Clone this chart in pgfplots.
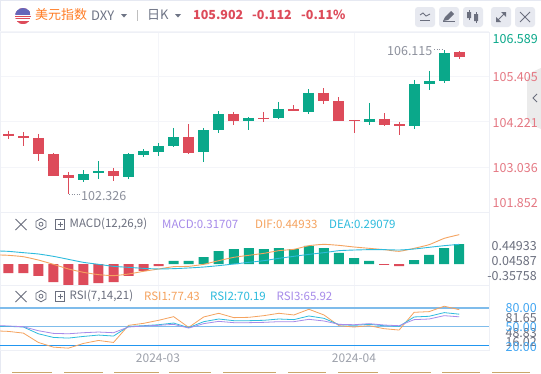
\documentclass[border=0pt]{standalone}
\usepackage{fontspec}
\usepackage{pgfplots}
\pgfplotsset{compat=1.18}
\setmainfont{Noto Sans CJK SC}
\definecolor{up}{HTML}{0AA88A}
\definecolor{down}{HTML}{DD4B5A}
\definecolor{gridc}{HTML}{F4F5F9}
\definecolor{framec}{HTML}{EEF0F6}
\definecolor{borderc}{HTML}{E6E9F2}
\definecolor{txt}{HTML}{6E7485}
\definecolor{lab}{HTML}{8C909C}
\definecolor{dif}{HTML}{F5A35F}
\definecolor{dea}{HTML}{2DBBDD}
\definecolor{mac}{HTML}{A78BEA}
\definecolor{hlc}{HTML}{7FBCEB}
\definecolor{hlb}{HTML}{2196F0}
\definecolor{btn}{HTML}{E7E9F0}
\definecolor{ico}{HTML}{6B6F7E}
\definecolor{tanc}{HTML}{C9A76B}
\pgfplotsset{panel/.style={
  scale only axis, anchor=north west, width=489.3pt,
  xmin=-0.552, xmax=32, clip=true, unbounded coords=jump,
  axis line style={draw=framec,line width=0.8pt},
  tick style={draw=none}, xticklabels={}, yticklabels={},
  xtick={10,23}, xmajorgrids, grid style={gridc,line width=1pt}}}
\newcommand{\lbl}[4]{\node[anchor=#1,inner sep=0pt,text=#2,font=\fontsize{#3}{#3}\selectfont] at #4;}
\begin{document}
\begin{tikzpicture}
\useasboundingbox (0pt,0pt) rectangle (541pt,-373pt);
\begin{scope}[x=1pt,y=-1pt]
\fill[white] (0,0) rectangle (541,373);
\fill[borderc] (0,0) rectangle (541,1);
\fill[borderc] (0,0) rectangle (1,373);
\draw[gridc,line width=1pt] (0,31.5) -- (489,31.5);
\end{scope}
% ---- candles
\begin{axis}[panel, at={(0pt,-32pt)}, height=180pt, ymin=101.852, ymax=106.589,
  ytick={105.405,104.221,103.036}, ymajorgrids]
\addplot[down,line width=1pt] coordinates {
(0,103.992)(0,103.765)(0,nan) (1,103.949)(1,103.597)(0,nan) (2,103.905)(2,103.202)(0,nan) (3,103.405)(3,102.799)(0,nan)
(4,102.905)(4,102.326)(0,nan) (7,103.010)(7,102.676)(0,nan) (12,104.168)(12,103.378)(0,nan) (15,104.484)(15,104.142)(0,nan)
(17,104.484)(17,104.221)(0,nan) (19,104.668)(19,104.510)(0,nan) (21,105.107)(21,104.694)(0,nan) (22,104.871)(22,104.247)(0,nan)
(23,104.273)(23,103.931)(0,nan) (25,104.457)(25,104.115)(0,nan) (26,104.221)(26,103.878)(0,nan) (30,106.089)(30,105.878)
};
\addplot[down,line width=11pt] coordinates {
(0,103.913)(0,103.860)(0,nan) (1,103.852)(1,103.807)(0,nan) (2,103.800)(2,103.386)(0,nan) (3,103.378)(3,102.799)(0,nan)
(4,102.826)(4,102.747)(0,nan) (7,102.931)(7,102.799)(0,nan) (12,103.826)(12,103.405)(0,nan) (15,104.431)(15,104.247)(0,nan)
(17,104.334)(17,104.300)(0,nan) (19,104.563)(19,104.510)(0,nan) (21,104.984)(21,104.773)(0,nan) (22,104.773)(22,104.247)(0,nan)
(23,104.273)(23,104.240)(0,nan) (25,104.300)(25,104.142)(0,nan) (26,104.168)(26,104.115)(0,nan) (30,106.063)(30,105.931)
};
\addplot[up,line width=1pt] coordinates {
(5,102.957)(5,102.650)(0,nan) (6,103.194)(6,102.728)(0,nan) (8,103.405)(8,102.728)(0,nan) (9,103.510)(9,103.307)(0,nan)
(10,103.668)(10,103.334)(0,nan) (11,104.063)(11,103.563)(0,nan) (13,104.063)(13,103.168)(0,nan) (14,104.510)(14,103.931)(0,nan)
(16,104.352)(16,104.010)(0,nan) (18,104.747)(18,104.300)(0,nan) (20,105.089)(20,104.431)(0,nan) (24,104.721)(24,104.142)(0,nan)
(27,105.326)(27,104.036)(0,nan) (28,105.563)(28,105.063)(0,nan) (29,106.115)(29,105.247)
};
\addplot[up,line width=11pt] coordinates {
(5,102.852)(5,102.694)(0,nan) (6,102.931)(6,102.886)(0,nan) (8,103.378)(8,102.773)(0,nan) (9,103.457)(9,103.360)(0,nan)
(10,103.589)(10,103.431)(0,nan) (11,103.826)(11,103.589)(0,nan) (13,104.010)(13,103.431)(0,nan) (14,104.431)(14,104.010)(0,nan)
(16,104.326)(16,104.247)(0,nan) (18,104.563)(18,104.326)(0,nan) (20,104.984)(20,104.484)(0,nan) (24,104.300)(24,104.221)(0,nan)
(27,105.221)(27,104.115)(0,nan) (28,105.300)(28,105.221)(0,nan) (29,106.036)(29,105.300)
};
\end{axis}
% ---- MACD
\begin{axis}[panel, at={(0pt,-212pt)}, height=73.5pt, ymin=-0.3413, ymax=0.8254,
  ytick=\empty, ybar=0pt, bar width=10pt]
\addplot[fill=down,draw=none,bar shift=0pt] coordinates {
(0,-.143)(1,-.143)(2,-.190)(3,-.286)(4,-.333)(5,-.333)(6,-.302)(7,-.286)(8,-.190)(9,-.111)(10,-.032)(25,-.012)(26,-.032)};
\addplot[fill=up,draw=none,bar shift=0pt] coordinates {
(11,.048)(12,.048)(13,.111)(14,.206)(15,.238)(16,.254)(17,.238)(18,.254)(19,.238)(20,.286)(21,.254)(22,.175)(23,.095)(24,.048)(27,.063)(28,.143)(29,.254)(30,.317)};
\end{axis}
\begin{axis}[panel, at={(0pt,-212pt)}, height=73.5pt, ymin=-0.3413, ymax=0.8254, ytick=\empty, xtick=\empty, axis line style={draw=none}]
\addplot[dif,line width=0.9pt,smooth,tension=0.3] coordinates {
(-.55,.143)(0,.138)(1,.116)(2,.063)(3,-.005)(4,-.079)(5,-.132)(6,-.169)(7,-.185)(8,-.159)(9,-.116)(10,-.079)(11,-.042)(12,-.037)(13,-.005)(14,.053)(15,.106)(16,.138)(17,.169)(18,.212)(19,.233)(20,.291)(21,.312)(22,.296)(23,.270)(24,.249)(25,.228)(26,.201)(27,.249)(28,.307)(29,.407)(30,.466)};
\addplot[dea,line width=0.9pt,smooth,tension=0.3] coordinates {
(-.55,.206)(0,.201)(1,.180)(2,.159)(3,.122)(4,.074)(5,.026)(6,-.005)(7,-.037)(8,-.053)(9,-.069)(10,-.079)(11,-.074)(12,-.063)(13,-.048)(14,-.026)(15,0)(16,.026)(17,.053)(18,.090)(19,.122)(20,.153)(21,.180)(22,.212)(23,.222)(24,.228)(25,.228)(26,.222)(27,.238)(28,.265)(29,.291)(30,.312)};
\end{axis}
% ---- RSI
\begin{axis}[panel, at={(0pt,-285.7pt)}, height=64.3pt, ymin=12.4, ymax=116.1, ytick=\empty]
\addplot[hlc,line width=1.3pt] coordinates {(-.552,80)(32,80)};
\addplot[hlc,line width=1pt] coordinates {(-.552,50)(32,50)};
\addplot[hlb,line width=0.9pt] coordinates {(-.552,20)(32,20)};
\addplot[dif,line width=0.8pt] coordinates {
(-.55,43.0)(0,42.4)(1,39.7)(2,24.6)(3,17.0)(4,15.4)(5,23.0)(6,27.8)(7,24.6)(8,52.2)(9,55.4)(10,60.3)(11,66.2)(12,48.9)(13,65.7)(14,71.6)(15,64.6)(16,65.1)(17,67.8)(18,71.6)(19,68.9)(20,78.1)(21,68.9)(22,51.6)(23,49.5)(24,51.6)(25,46.8)(26,44.6)(27,73.2)(28,74.3)(29,83.0)(30,77.43)};
\addplot[dea,line width=0.8pt] coordinates {
(-.55,50.5)(0,50.5)(1,49.5)(2,38.6)(3,32.7)(4,31.6)(5,34.3)(6,36.5)(7,34.9)(8,50.5)(9,51.6)(10,53.2)(11,55.9)(12,48.4)(13,58.1)(14,62.4)(15,59.7)(16,59.7)(17,60.3)(18,62.4)(19,61.4)(20,67.3)(21,63.5)(22,53.2)(23,52.2)(24,53.8)(25,51.6)(26,50.5)(27,65.7)(28,66.8)(29,72.7)(30,70.19)};
\addplot[mac,line width=0.8pt] coordinates {
(-.55,51.6)(0,51.1)(1,50)(2,43.5)(3,39.2)(4,38.6)(5,40.3)(6,41.4)(7,40.3)(8,49.5)(9,51.1)(10,52.2)(11,53.8)(12,47.8)(13,54.9)(14,58.6)(15,56.5)(16,56.5)(17,57.0)(18,58.1)(19,58.1)(20,61.9)(21,59.2)(22,53.8)(23,53.2)(24,54.9)(25,52.7)(26,51.6)(27,61.4)(28,62.4)(29,67.8)(30,65.92)};
\end{axis}
\begin{scope}[x=1pt,y=-1pt]
% ---- header
\begin{scope}
\clip (23,16) circle (8);
\fill[white] (15,8) rectangle (31,24);
\foreach \y in {8,10.5,13,15.5,18,20.5,23}{\fill[down] (15,\y) rectangle (31,\y+1.2);}
\fill[down] (15,21.5) rectangle (31,24);
\fill[black!45!blue!60!white] (15,8) rectangle (31,15);
\end{scope}
\lbl{west}{orange!80!red!85!white}{13}{(35,15) {美元指数}}
\lbl{west}{txt}{13}{(91,16) {DXY}}
\fill[txt] (121,14) -- (127,14) -- (124,17.5) -- cycle;
\draw[black!25,line width=0.7pt] (137.3,10) -- (137.3,21);
\lbl{west}{txt}{13}{(147,15) {日K}}
\fill[txt] (175,14) -- (181,14) -- (178,17.5) -- cycle;
\lbl{west}{down}{12.5}{(193,15) {\bfseries 105.902}}
\lbl{west}{down}{12.5}{(252,15) {\bfseries -0.112}}
\lbl{west}{down}{12.5}{(301,15) {\bfseries -0.11\%}}
\foreach \x in {415,439,463,491,515}{\fill[btn,rounded corners=3pt] (\x,7) rectangle (\x+20,27);}
\draw[ico,line width=0.9pt] (420,15) -- (423,13) -- (426,16) -- (430,14);
\draw[ico,line width=1pt] (420,20.5) -- (430,20.5);
\fill[ico] (443,21) -- (445,17) -- (451,11) -- (454,14) -- (448,20) -- cycle;
\draw[ico,line width=1pt] (443,21.5) -- (455,21.5);
\draw[ico,line width=.8pt] (469,10) -- (469,20) (476,12) -- (476,23);
\fill[ico] (467,12) rectangle (471,18) (474,14) rectangle (478,21);
\draw[ico,line width=1pt] (497,21) -- (505,13);
\fill[ico] (501,12) -- (506,12) -- (506,17) -- cycle (496,17) -- (496,22) -- (501,22) -- cycle;
\draw[ico,line width=.9pt] (520,12) -- (530,22) (530,12) -- (520,22);
% ---- tab at the right
\fill[black!8!white] (541,68) -- (532,72) -- (527,78) -- (527,119) -- (532,125) -- (541,129) -- cycle;
\draw[ico,line width=.9pt] (537,94) -- (533,98) -- (537,102);
% ---- price labels
\lbl{east}{up}{12.5}{(538,39) {106.589}}
\lbl{east}{down!75!white}{12.5}{(538,77.5) {105.405}}
\lbl{east}{down!75!white}{12.5}{(538,123) {104.221}}
\lbl{east}{down!75!white}{12.5}{(538,168.5) {103.036}}
\lbl{east}{down!75!white}{12.5}{(538,203.5) {101.852}}
\lbl{west}{lab}{12.5}{(81,196.5) {102.326}}
\lbl{west}{lab}{12.5}{(387,51) {106.115}}
\draw[lab,line width=.8pt,dash pattern=on 1pt off 1.5pt] (69,194) -- (80,194);
\draw[lab,line width=.8pt,dash pattern=on 1pt off 1.5pt] (434,49) -- (443,49);
% ---- MACD titles
\draw[ico,line width=.8pt] (15.5,219) -- (26.5,230) (26.5,219) -- (15.5,230);
\draw[ico,line width=.8pt] (41,218.5) -- (46,221.3) -- (46,227) -- (41,229.8) -- (36,227) -- (36,221.3) -- cycle;
\draw[ico,line width=.8pt] (41,224.2) circle (2);
\draw[ico,line width=.7pt] (55.5,219) rectangle (64.5,229) (57.5,224) -- (62.5,224) (60,221.5) -- (60,226.5);
\lbl{west}{ico}{11.5}{(69.5,224) {MACD(12,26,9)}}
\lbl{west}{mac}{11.5}{(162,224) {MACD:0.31707}}
\lbl{west}{dif}{11.5}{(255,224) {DIF:0.44933}}
\lbl{west}{dea}{11.5}{(329,224) {DEA:0.29079}}
\lbl{east}{ico}{12.5}{(537,246.5) {0.44933}}
\lbl{east}{ico}{12.5}{(537,261.5) {0.04587}}
\lbl{east}{ico}{12.5}{(537,276.5) {-0.35758}}
% ---- RSI titles
\draw[ico,line width=.8pt] (15.5,291) -- (26.5,302) (26.5,291) -- (15.5,302);
\draw[ico,line width=.8pt] (41,290.5) -- (46,293.3) -- (46,299) -- (41,301.8) -- (36,299) -- (36,293.3) -- cycle;
\draw[ico,line width=.8pt] (41,296.2) circle (2);
\draw[ico,line width=.7pt] (55.5,291) rectangle (64.5,301) (57.5,296) -- (62.5,296) (60,293.5) -- (60,298.5);
\lbl{west}{ico}{11.5}{(69.5,296) {RSI(7,14,21)}}
\lbl{west}{dif}{11.5}{(144,296) {RSI1:77.43}}
\lbl{west}{dea}{11.5}{(210,296) {RSI2:70.19}}
\lbl{west}{mac}{11.5}{(276.5,296) {RSI3:65.92}}
\begin{scope}
\clip (489,286) rectangle (541,350);
\lbl{east}{ico}{12.5}{(537,318) {81.65}}
\lbl{east}{ico}{12.5}{(537,333) {48.83}}
\lbl{east}{ico}{12.5}{(537,342) {16.02}}
\lbl{east}{hlb!85!white}{12.5}{(537,308.5) {80.00}}
\lbl{east}{hlb!85!white}{12.5}{(537,327) {50.00}}
\lbl{east}{hlb!85!white}{12.5}{(537,347.5) {20.00}}
\end{scope}
\lbl{center}{lab!85!white}{12}{(158,358.5) {2024-03}}
\lbl{center}{lab!85!white}{12}{(354,358.5) {2024-04}}
% ---- strip at the lower edge
\foreach \a/\b in {12/52,64/103,114/159,169/211,223/276,288/326,338/378,390/431,442/480,492/530}{
  \fill[tanc] (\a,371.6) rectangle (\b,373);}
\end{scope}
\end{tikzpicture}
\end{document}
